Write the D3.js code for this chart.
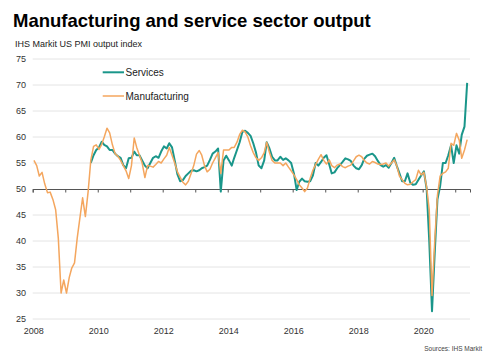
<!DOCTYPE html>
<html>
<head>
<meta charset="utf-8">
<script src="https://cdn.jsdelivr.net/npm/d3@7"></script>
<style>
  html, body { margin: 0; padding: 0; background: #fff; }
  svg { display: block; font-family: "Liberation Sans", Arial, sans-serif; }
</style>
</head>
<body>
<svg id="chart" width="494" height="360"></svg>
<script>
// ---- Data (monthly, IHS Markit US PMI output index) ----
const mfgStart = [2008, 0];   // Jan 2008
const svcStart = [2009, 9];   // Oct 2009

const manufacturing = [
  // 2008
  55.5, 54.5, 52.5, 53.2, 51.0, 49.3, 49.4, 48.0, 46.0, 40.5, 30.0, 32.5,
  // 2009
  30.0, 33.0, 34.8, 35.8, 40.5, 44.5, 48.3, 44.7, 49.5, 55.5, 58.2, 58.5,
  // 2010
  57.6, 58.6, 60.0, 61.7, 60.8, 58.5, 56.8, 56.3, 55.5, 54.5, 53.5, 52.0,
  // 2011
  54.5, 59.8, 58.0, 56.5, 55.0, 52.2, 54.5, 54.4, 54.2, 54.7, 55.3, 55.0,
  // 2012
  55.8, 56.5, 58.0, 56.5, 55.0, 53.3, 52.3, 51.3, 50.8, 51.5, 53.0, 54.5,
  // 2013
  56.7, 57.4, 56.5, 54.5, 53.3, 53.8, 55.0, 56.0, 57.0, 53.0, 57.5, 57.5,
  // 2014
  57.5, 58.0, 58.0, 59.0, 60.5, 61.3, 61.0, 60.0, 58.3, 57.0, 56.0, 55.5,
  // 2015
  56.0, 57.0, 59.0, 57.0, 55.5, 55.0, 55.0, 55.0, 54.5, 55.0, 54.2, 53.5,
  // 2016
  52.7, 51.8, 50.8, 50.2, 49.5, 50.2, 52.0, 53.6, 54.7, 55.7, 56.6, 55.5,
  // 2017
  54.8, 55.6, 54.5, 54.1, 54.6, 54.8, 54.3, 54.1, 54.4, 54.6, 55.4, 56.2,
  // 2018
  56.5, 56.2, 55.5, 55.0, 54.8, 55.3, 55.1, 54.8, 54.7, 54.8, 55.0, 54.4,
  // 2019
  55.0, 55.6, 54.5, 52.5, 51.8, 51.1, 50.8, 50.9, 51.4, 51.8, 53.6, 52.7,
  // 2020
  53.2, 50.3, 46.0, 29.5, 39.8, 48.8, 52.5, 53.0, 53.3, 54.0, 58.8, 58.4,
  // 2021
  60.7, 59.4, 55.9, 57.5, 59.5
];

const services = [
  // 2009 (Oct-Dec)
  55.0, 56.5, 57.5,
  // 2010
  58.0, 59.1, 58.5, 58.2, 57.5, 57.5, 56.8, 56.3, 56.0, 54.6, 54.0, 55.9,
  // 2011
  56.0, 57.2, 56.5, 56.5, 55.5, 54.5, 54.0, 55.0, 56.0, 56.3, 56.0, 57.2,
  // 2012
  58.2, 57.8, 58.8, 58.0, 55.5, 52.8, 51.5, 51.7, 52.5, 53.0, 53.5, 53.6,
  // 2013
  53.4, 53.6, 54.0, 54.2, 54.5, 55.6, 56.8, 57.2, 57.8, 49.5, 55.5, 56.4,
  // 2014
  55.5, 54.5, 56.0, 57.5, 59.0, 61.0, 61.2, 60.8, 60.2, 58.8, 57.0, 54.5,
  // 2015
  54.0, 55.5, 59.0, 57.8, 56.2, 55.5, 55.5, 56.2, 55.6, 55.9, 55.5, 55.0,
  // 2016
  53.0, 49.8, 51.4, 52.0, 51.5, 51.4, 51.5, 52.6, 55.0, 54.5, 55.2, 56.0,
  // 2017
  56.5, 54.7, 53.0, 53.2, 54.0, 54.6, 55.2, 55.9, 55.7, 55.4, 54.5, 54.0,
  // 2018
  53.8, 54.6, 55.8, 56.4, 56.6, 56.8, 56.3, 55.4, 54.6, 54.3, 54.6, 54.1,
  // 2019
  55.0, 56.0, 54.5, 53.0, 51.5, 51.5, 53.0, 51.2, 50.8, 50.9, 51.8, 52.6,
  // 2020
  53.4, 50.0, 40.0, 26.5, 37.5, 48.0, 50.5, 55.0, 55.0, 56.5, 58.4, 55.0,
  // 2021
  58.4, 56.8, 60.4, 62.0, 70.4
];

const yTicks = [25, 30, 35, 40, 45, 50, 55, 60, 65, 70, 75];
const xTickYears = [2008, 2009, 2010, 2011, 2012, 2013, 2014, 2015, 2016, 2017, 2018, 2019, 2020, 2021];
const xLabelYears = [2008, 2010, 2012, 2014, 2016, 2018, 2020];

const seriesNames = ["Services", "Manufacturing"];
const colors = { Services: "#1a968a", Manufacturing: "#f4a65e" };

// ---- Build ----
function toPoints(values, start) {
  return values.map((v, i) => ({ date: new Date(start[0], start[1] + i, 15), value: v }));
}
const mfgData = toPoints(manufacturing, mfgStart);
const svcData = toPoints(services, svcStart);

const svg = d3.select("#chart");

const x = d3.scaleTime()
  .domain([new Date(2008, 0, 1), new Date(2021, 5, 16)])
  .range([32.7, 470]);
const y = d3.scaleLinear().domain([25, 75]).range([319, 59]);

// Title, subtitle
svg.append("text").attr("x", 13).attr("y", 27)
  .attr("font-size", 18.5).attr("font-weight", "bold").attr("fill", "#000")
  .text("Manufacturing and service sector output");
svg.append("text").attr("x", 15).attr("y", 46.5)
  .attr("font-size", 9).attr("fill", "#222")
  .text("IHS Markit US PMI output index");

// Gridlines
svg.append("g").selectAll("line")
  .data(yTicks.filter(t => t !== 50))
  .join("line")
  .attr("x1", x.range()[0]).attr("x2", x.range()[1])
  .attr("y1", d => y(d)).attr("y2", d => y(d))
  .attr("stroke", "#e4e4e4").attr("stroke-width", 1);

// Y labels
svg.append("g").selectAll("text")
  .data(yTicks)
  .join("text")
  .attr("x", 26).attr("y", d => y(d) + 3.2)
  .attr("text-anchor", "end").attr("font-size", 9).attr("fill", "#333")
  .text(d => d);

// X axis at 50 with yearly ticks
const xAxis = d3.axisBottom(x)
  .tickValues(xTickYears.map(yr => new Date(yr, 0, 1)))
  .tickSize(3.5)
  .tickFormat("");
const gx = svg.append("g").attr("transform", `translate(0,${y(50)})`).call(xAxis);
gx.select(".domain").attr("stroke", "#555").attr("stroke-width", 1);
gx.selectAll(".tick line").attr("stroke", "#555");

// X labels at bottom
svg.append("g").selectAll("text")
  .data(xLabelYears)
  .join("text")
  .attr("x", d => x(new Date(d, 0, 1)) + 1)
  .attr("y", 333.5)
  .attr("text-anchor", "middle").attr("font-size", 9).attr("fill", "#333")
  .text(d => d);

// Lines
const line = d3.line().x(d => x(d.date)).y(d => y(d.value));
svg.append("path").datum(svcData)
  .attr("fill", "none").attr("stroke", colors.Services)
  .attr("stroke-width", 2).attr("stroke-linejoin", "round")
  .attr("d", line);
svg.append("path").datum(mfgData)
  .attr("fill", "none").attr("stroke", colors.Manufacturing)
  .attr("stroke-width", 1.5).attr("stroke-linejoin", "round")
  .attr("d", line);

// Legend
const legend = svg.append("g");
const legendY = [72.3, 96];
seriesNames.forEach((name, i) => {
  legend.append("line")
    .attr("x1", 102.7).attr("x2", 124).attr("y1", legendY[i]).attr("y2", legendY[i])
    .attr("stroke", colors[name]).attr("stroke-width", name === "Services" ? 2 : 1.5);
  legend.append("text")
    .attr("x", 125.5).attr("y", legendY[i] + 3.5)
    .attr("font-size", 10).attr("fill", "#222")
    .text(name);
});

// Source
svg.append("text").attr("x", 482).attr("y", 350.5)
  .attr("text-anchor", "end").attr("font-size", 6.5).attr("fill", "#444")
  .text("Sources: IHS Markit");
</script>
</body>
</html>
